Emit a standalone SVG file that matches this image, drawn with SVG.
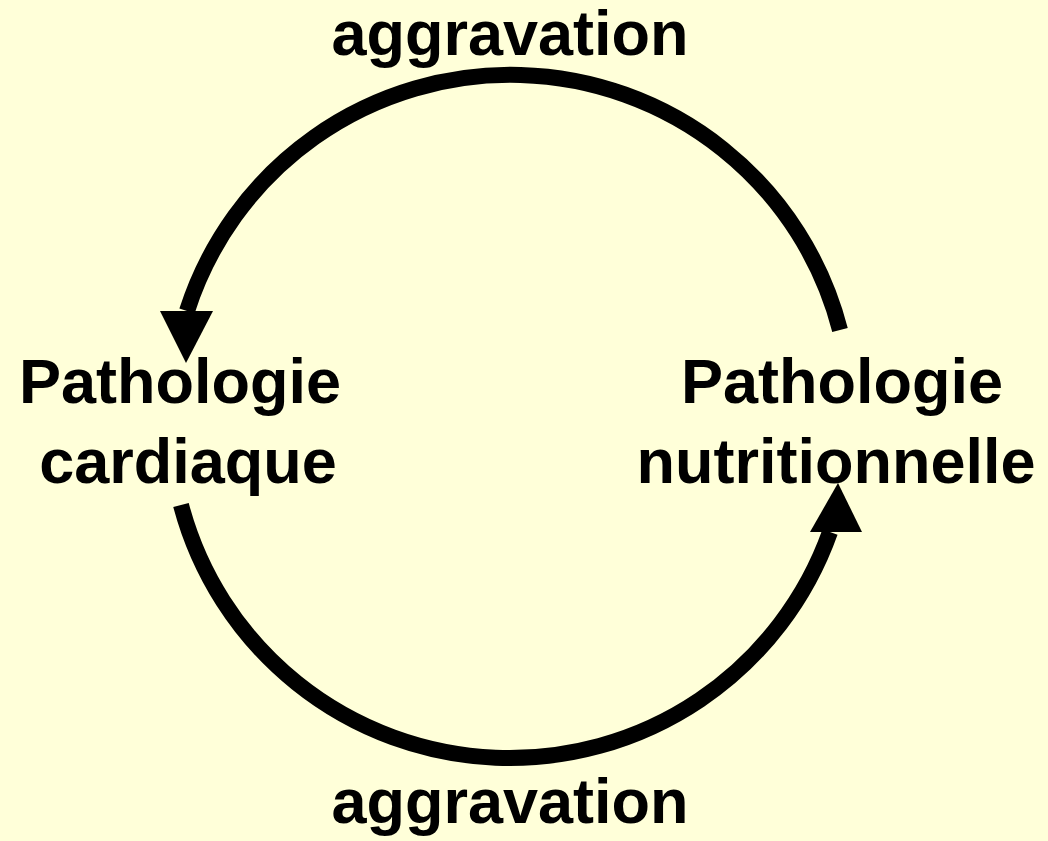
<svg xmlns="http://www.w3.org/2000/svg" width="1048" height="841" viewBox="0 0 1048 841">
<style>
.t{font-family:"Liberation Sans",Arial,sans-serif;font-weight:bold;font-size:63px;fill:#000;text-anchor:middle}
.a{fill:none;stroke:#000;stroke-width:16}
</style>
<rect width="1048" height="841" fill="#FFFFD9"/>
<g id="connectors">
<path class="a" d="M840,330 A340,340 0 0 0 187,311"/>
<polygon points="160,311 213,311 186,363"/>
<path class="a" d="M181,505 A340,340 0 0 0 830,532"/>
<polygon points="810,532 862,532 838,483"/>
</g>
<g id="label-top"><text class="t" x="510" y="55">aggravation</text></g>
<g id="label-bottom"><text class="t" x="510" y="823">aggravation</text></g>
<g id="node-cardiaque"><text class="t" x="180" y="403">Pathologie</text><text class="t" x="188" y="483">cardiaque</text></g>
<g id="node-nutritionnelle"><text class="t" x="842" y="403">Pathologie</text><text class="t" x="836" y="483">nutritionnelle</text></g>
</svg>
